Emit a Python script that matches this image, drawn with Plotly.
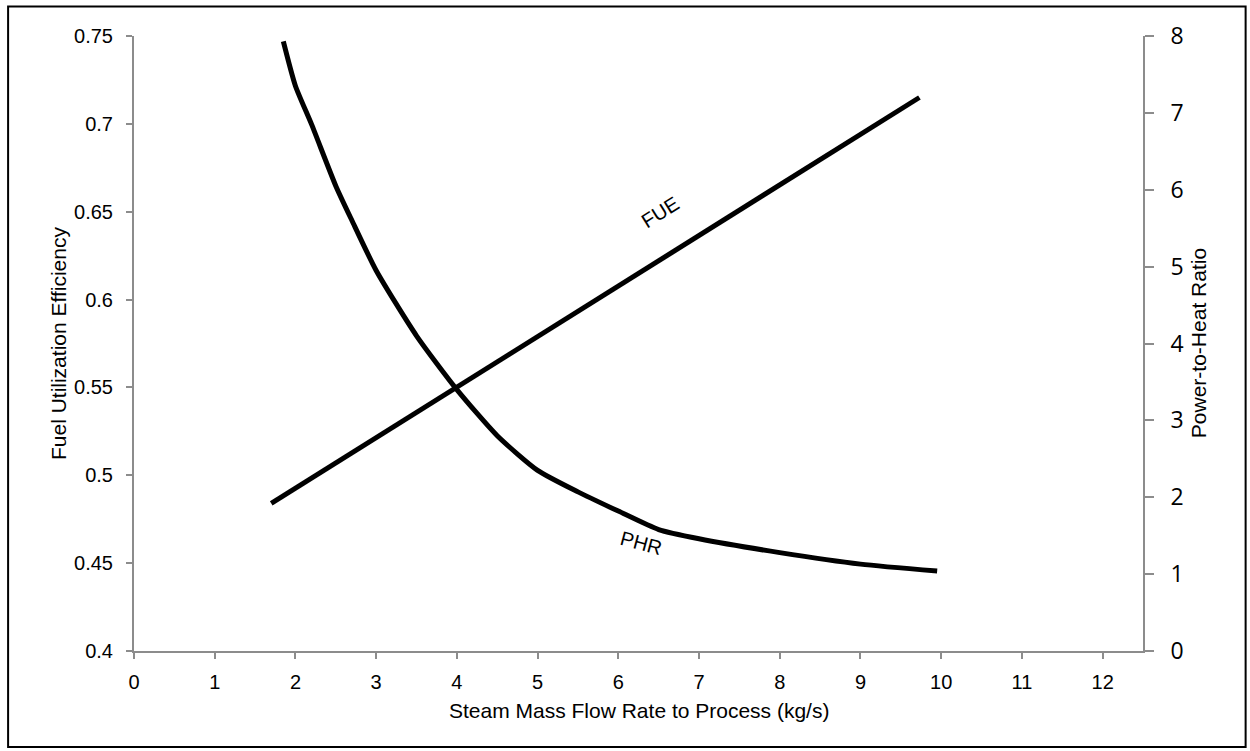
import plotly.graph_objects as go

# Data
fue_x = [1.70, 9.73]
fue_y = [0.484, 0.715]

phr_x = [1.85, 2.0, 2.2, 2.5, 2.7, 3.0, 3.5, 4.0, 4.5, 5.0, 5.5, 6.0, 6.5, 7.0, 8.0, 9.0, 9.95]
phr_y = [7.93, 7.35, 6.85, 6.05, 5.60, 4.95, 4.10, 3.40, 2.80, 2.35, 2.07, 1.82, 1.58, 1.46, 1.28, 1.13, 1.04]

x_ticks = list(range(0, 13))
left_ticks = [0.4, 0.45, 0.5, 0.55, 0.6, 0.65, 0.7, 0.75]
left_labels = ["0.4", "0.45", "0.5", "0.55", "0.6", "0.65", "0.7", "0.75"]
right_ticks = list(range(0, 9))

W, H = 1250, 751
L, R, T, B = 133.5, 1143.3, 36, 651
pw, ph = R - L, B - T

fig = go.Figure()
fig.add_trace(go.Scatter(x=fue_x, y=fue_y, mode="lines", name="FUE",
                         line=dict(color="black", width=5), yaxis="y"))
fig.add_trace(go.Scatter(x=phr_x, y=phr_y, mode="lines", name="PHR",
                         line=dict(color="black", width=5, shape="spline", smoothing=0.6),
                         yaxis="y2"))

axcol = "#8c8c8c"
ARIAL = "Liberation Sans, Arial"
fig.update_layout(
    width=W, height=H,
    margin=dict(l=L, r=W - R, t=T, b=H - B, pad=0),
    paper_bgcolor="white", plot_bgcolor="white",
    showlegend=False,
    font=dict(family=ARIAL, color="black"),
    xaxis=dict(range=[0, 12.5], tickvals=x_ticks, ticks="outside", ticklen=6,
               tickcolor=axcol, tickwidth=1.5, showline=True, linecolor=axcol, linewidth=2,
               showgrid=False, zeroline=False, tickfont=dict(size=20),
               ticklabelstandoff=6),
    yaxis=dict(range=[0.4, 0.75], tickvals=left_ticks, ticktext=left_labels, ticks="outside",
               ticklen=6, tickcolor=axcol, tickwidth=1.5, showline=True, linecolor=axcol,
               linewidth=2, showgrid=False, zeroline=False, tickfont=dict(size=20),
               ticklabelstandoff=9),
    yaxis2=dict(range=[0, 8], tickvals=right_ticks, overlaying="y", side="right",
                ticks="outside", ticklen=9, tickcolor=axcol, tickwidth=1.5, showline=True,
                linecolor=axcol, linewidth=2, showgrid=False, zeroline=False,
                tickfont=dict(size=23, family="Open Sans"), ticklabelstandoff=12),
)

# axis titles
fig.add_annotation(xref="paper", yref="paper", x=0.5, y=(B - 710) / ph,
                   text="Steam Mass Flow Rate to Process (kg/s)", showarrow=False,
                   xanchor="center", yanchor="middle", font=dict(size=21))
fig.add_annotation(xref="paper", yref="paper", x=(58 - L) / pw, y=0.5,
                   text="Fuel Utilization Efficiency", showarrow=False, textangle=-90,
                   xanchor="center", yanchor="middle", font=dict(size=21))
fig.add_annotation(xref="paper", yref="paper", x=(1199 - L) / pw, y=0.5,
                   text="Power-to-Heat Ratio", showarrow=False, textangle=-90,
                   xanchor="center", yanchor="middle", font=dict(size=21))

# series labels
fig.add_annotation(x=6.52, y=0.650, xref="x", yref="y", text="FUE", showarrow=False,
                   textangle=-32, font=dict(size=20))
fig.add_annotation(x=6.28, y=1.40, xref="x", yref="y2", text="PHR", showarrow=False,
                   textangle=15, font=dict(size=20))

# outer border
fig.add_shape(type="rect", xref="paper", yref="paper",
              x0=(7.5 - L) / pw, x1=(1246 - L) / pw,
              y0=(B - 747) / ph, y1=(B - 6.5) / ph,
              line=dict(color="black", width=2), fillcolor="rgba(0,0,0,0)")

fig.write_html("out.html")
